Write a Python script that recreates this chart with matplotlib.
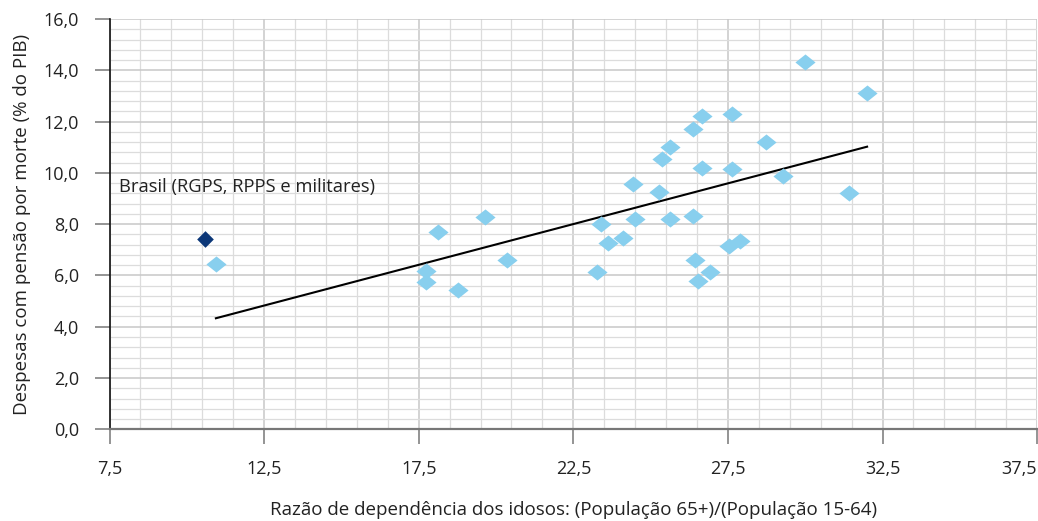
import numpy as np
import matplotlib
matplotlib.use("Agg")
import matplotlib.pyplot as plt
from matplotlib.path import Path
from matplotlib.ticker import MultipleLocator, FuncFormatter

# -------------------------------
# Data
# -------------------------------
# elderly dependency ratio (x) vs survivor pension spending, % of GDP (y)
razao_x = [10.94, 17.72, 17.72, 18.11, 18.76, 19.64, 20.37, 23.28, 23.39, 23.62,
           24.09, 24.43, 24.51, 25.27, 25.37, 25.62, 25.62, 26.37, 26.37, 26.45,
           26.53, 26.66, 26.66, 26.91, 27.52, 27.64, 27.64, 27.88, 28.72, 29.28,
           30.00, 31.40, 32.00]
despesa_y = [6.43, 6.17, 5.73, 7.71, 5.43, 8.27, 6.60, 6.12, 8.00, 7.25,
             7.47, 9.57, 8.19, 9.24, 10.53, 11.02, 8.21, 11.71, 8.32, 6.60,
             5.78, 12.22, 10.20, 6.12, 7.16, 12.31, 10.14, 7.36, 11.20, 9.88,
             14.31, 9.23, 13.13]

brasil_x = [10.59]
brasil_y = [7.41]
brasil_label = "Brasil (RGPS, RPPS e militares)"

x_ticks = [7.5, 12.5, 17.5, 22.5, 27.5, 32.5, 37.5]
y_ticks = [0, 2, 4, 6, 8, 10, 12, 14, 16]

xlabel = "Razão de dependência dos idosos: (População 65+)/(População 15-64)"
ylabel = "Despesas com pensão por morte (% do PIB)"

# -------------------------------
# Style
# -------------------------------
plt.rcParams["font.family"] = ["Open Sans", "DejaVu Sans"]
LIGHT = "#88CFEE"
DARK = "#0C3778"
TXT = "#222222"
FS = 13

# wide diamond (wider than tall) and regular diamond
wide_diamond = Path([(-1, 0), (0, 0.8), (1, 0), (0, -0.8), (-1, 0)],
                    [Path.MOVETO, Path.LINETO, Path.LINETO, Path.LINETO, Path.CLOSEPOLY])
diamond = Path([(-1, 0), (0, 1), (1, 0), (0, -1), (-1, 0)],
               [Path.MOVETO, Path.LINETO, Path.LINETO, Path.LINETO, Path.CLOSEPOLY])

fig = plt.figure(figsize=(10.38, 5.21), dpi=100)
ax = fig.add_axes([0.1055, 0.176, 0.8937, 0.7875])

# grid
ax.set_xlim(7.5, 37.5)
ax.set_ylim(0, 16)
ax.xaxis.set_minor_locator(MultipleLocator(1, offset=0.5))
ax.yaxis.set_minor_locator(MultipleLocator(0.4))
ax.set_xticks(x_ticks)
ax.set_yticks(y_ticks)
ax.grid(which="minor", color="#DCDCDC", linewidth=0.9)
ax.grid(which="major", color="#C8C8C8", linewidth=1.1)
ax.set_axisbelow(True)

# trend line over the comparison countries
coef = np.polyfit(razao_x, despesa_y, 1)
tx = np.array([min(razao_x), max(razao_x)])
ax.plot(tx, np.polyval(coef, tx), color="black", linewidth=1.5, zorder=3)

ax.plot(razao_x, despesa_y, linestyle="none", marker=wide_diamond,
        markersize=14.5, color=LIGHT, markeredgewidth=0, zorder=4)
ax.plot(brasil_x, brasil_y, linestyle="none", marker=diamond,
        markersize=12, color=DARK, markeredgewidth=0, zorder=5)

ax.text(7.81, 9.45, brasil_label, fontsize=FS + 0.2, color=TXT,
        va="center", ha="left")

# axes
for side in ["top", "right"]:
    ax.spines[side].set_visible(False)
ax.spines["left"].set_color("#111111")
ax.spines["left"].set_linewidth(1.2)
ax.spines["bottom"].set_color("#777777")
ax.spines["bottom"].set_linewidth(1.6)

comma = FuncFormatter(lambda v, p: f"{v:.1f}".replace(".", ","))
ax.xaxis.set_major_formatter(comma)
ax.yaxis.set_major_formatter(comma)
ax.tick_params(which="major", direction="out", length=11, width=1.1,
               color="#777777", labelsize=FS, labelcolor=TXT)
ax.tick_params(axis="y", pad=11)
ax.tick_params(axis="x", pad=11)
ax.tick_params(which="minor", length=0)

# last x label sits inside the figure edge
fig.canvas.draw()
ax.get_xticklabels()[-1].set_horizontalalignment("right")

ax.set_xlabel(xlabel, fontsize=FS + 0.5, color=TXT, labelpad=17)
ax.set_ylabel(ylabel, fontsize=FS + 0.5, color=TXT, labelpad=9)

fig.savefig("out.png", dpi=100)
